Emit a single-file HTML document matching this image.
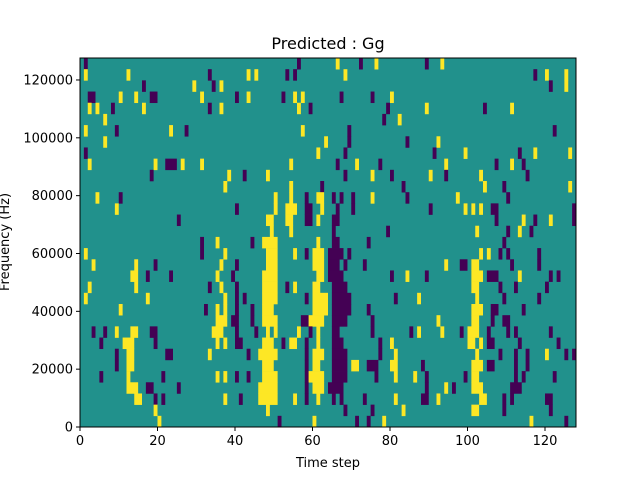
<!DOCTYPE html>
<html><head><meta charset="utf-8"><style>
body{margin:0;background:#fff;font-family:"Liberation Sans","DejaVu Sans",sans-serif;}
svg text{font-family:"DejaVu Sans","Liberation Sans",sans-serif;}
</style></head><body>
<svg id="chart" width="640" height="480" viewBox="0 0 640 480" xmlns="http://www.w3.org/2000/svg">
<rect width="640" height="480" fill="#fff"/>
<text x="328" y="49" font-size="16" text-anchor="middle" fill="#000">Predicted : Gg</text>
<g id="cells"></g>
<rect x="80" y="58" width="496" height="369" fill="none" stroke="#000" stroke-width="1"/>
<g id="xt"></g>
<g id="yt"></g>
<text x="328" y="467" font-size="13" text-anchor="middle">Time step</text>
<text transform="translate(9,242) rotate(-90)" font-size="13" text-anchor="middle">Frequency (Hz)</text>
</svg>
<script>
// rows from top (highest frequency) to bottom; tokens: y=+1 (yellow), p=-1 (purple), ranges a-b
const rowCells = [
"p1 p56 y66 p72 y76 p89 y93",
"y1 y12 p33 y43 y45 p53 p55 y68 p117 y120 y125",
"p16 y29 p34 y36 p121 y125",
"p2-3 y10 y14 p18-19 y31 p40 y43 p52 y55 y57 p67 p75 y80",
"y2 y4 p8 y16 p33 y36 y56 p59 p79 y89 p104 y111",
"y6 p78 y82",
"y1 p9 y23 p27 y57 p69 p122",
"y6 y63 p69 p84 y92",
"p1 y61 p68 p91 y99 p113 y117 y126",
"y2 y19 p22-24 y26 y31 y54 p66 y71 p77 y94 p107 y111 p114",
"p18 y38 p42 y48 p68 y75 p80 y90 p94 y103 p115",
"y37 y54 p62 p83 y104 p109 y126",
"y4 p10 y50 y54 p58 y61-62 p65 p67 p70 y75 p84 y97 p110",
"y9 p40 y50 y53-55 p58-59 y62 p66 p70 p90 y99 y101 y103 p106-107 p127",
"p25 y48-49 y53-54 p58-59 y61 p65-66 p107 y114 p117 y121 p127",
"y49 y54 p65 p79 y102 p110 y113 p116",
"p31 y35 p44 y47-50 y61 p65-66 p74 p109",
"y1 p31 y37 y48-50 y55 p58 y60-62 p64-67 p69 y103 y105 p108 p110 p118",
"y3 y14 p19 y36 p40 y48-50 y60-62 p64-66 p68 p73 y94 p98-99 y101-102 p111 p118",
"y13-14 p17 p23 y35 p39 y47-50 y61-62 p64-67 p80 y84 p89 y101-103 p105-107 y113 p121 p123",
"y2 y14 p33 y36 p40 y47-50 p53 y55 y60-61 p65-68 y101-102 p108 p112 p120",
"y1 y17 y37 p40 p42 y47-50 p58 y60-63 p65-69 p81 y87 y102 p109 p118",
"y10 p32 y35 y37 p40 p44 y47-49 y60-63 p65-69 p74 y101-103 p106-107 p114",
"y35-37 p39-40 p44 y47-50 p57-58 y59-62 p65-68 p75 y92 y101-102 p106 p109-110",
"p3 p6 y9 y13-14 p18-19 y34-36 p40 p45 y48 y50 y56 p59 y61 p65-66 p75 p85 y87 y93 p98 y100-102 p105 p110 p112 p121",
"p5 y11-13 p19 y35 y37 p40-41 y47-49 p52 y54-55 p58 y61 p65-67 p77 y80 y100-101 y103 p105-106 p113 p123",
"p9 y12-13 p22-23 y33 p43 y46-50 p58 y60-62 p65-68 p77 y81 y102 p108 p112 p115 y120 p125 p127",
"p9 y12-13 y47-49 p58 y60-61 p65-68 y70-71 p74-76 y80-81 p88 y101-103 p105-106 p112 p115",
"p5 y12 p21 y35 y37 p40 p43 y47-50 p58 y59-62 p65-68 p76 y81 y86 p89 p99 y101-102 p112 p114 p122",
"y12-14 p17-18 p25 y46-50 p58 y60-62 p64-67 p89 y94 p96 y101-103 p111-113",
"y14-15 p19 p21 y37 p41 y46-50 y55 p58 y61 p65 p67 p73 y81 p88-89 y92 y103-104 p109 p111 p120-121",
"y19 y48 p68 p75 y83 y101-102 p109 p121",
"y20 p51 y60 p71 p74 y78 y116 p125"
];
const nCols = 128;
const xTicks = [0,20,40,60,80,100,120];
const yTicks = [0,20000,40000,60000,80000,100000,120000];
const yMaxHz = 127600;
const colors = {"-1":"#440154","0":"#21918c","1":"#fde725"};
const L=80,R=576,T=58,B=427;
function xs(v){return L+v*(R-L)/nCols;}
function yHz(v){return B-v*(B-T)/yMaxHz;}
const nRows=rowCells.length;
function yRow(i){return T+i*(B-T)/nRows;}
const NS="http://www.w3.org/2000/svg";
const g=document.getElementById('cells');
const bg=document.createElementNS(NS,'rect');
bg.setAttribute('x',L);bg.setAttribute('y',T);bg.setAttribute('width',R-L);bg.setAttribute('height',B-T);bg.setAttribute('fill',colors["0"]);


g.appendChild(bg);
rowCells.forEach((row,i)=>{
  row.split(' ').forEach(tok=>{
    if(!tok)return;
    const v=tok[0]==='y'?1:-1;
    const parts=tok.slice(1).split('-').map(Number);
    const a=parts[0],b=parts.length>1?parts[1]:parts[0];
    const r=document.createElementNS(NS,'rect');
    r.setAttribute('x',xs(a));r.setAttribute('width',xs(b+1)-xs(a));
    r.setAttribute('y',yRow(i));r.setAttribute('height',yRow(i+1)-yRow(i)+0.3);
    r.setAttribute('fill',colors[String(v)]);
    
    
    g.appendChild(r);
  });
});
const xt=document.getElementById('xt');
xTicks.forEach(t=>{
  const x=xs(t);
  const l=document.createElementNS(NS,'line');
  l.setAttribute('x1',x);l.setAttribute('x2',x);l.setAttribute('y1',B);l.setAttribute('y2',B+4);l.setAttribute('stroke','#000');
  
  
  xt.appendChild(l);
  const tx=document.createElementNS(NS,'text');
  tx.setAttribute('x',x);tx.setAttribute('y',B+18);tx.setAttribute('font-size','13');tx.setAttribute('text-anchor','middle');
  tx.textContent=t;
  
  
  xt.appendChild(tx);
});
const yt=document.getElementById('yt');
yTicks.forEach(t=>{
  const y=yHz(t);
  const l=document.createElementNS(NS,'line');
  l.setAttribute('x1',L-4);l.setAttribute('x2',L);l.setAttribute('y1',y);l.setAttribute('y2',y);l.setAttribute('stroke','#000');
  
  
  yt.appendChild(l);
  const tx=document.createElementNS(NS,'text');
  tx.setAttribute('x',L-7);tx.setAttribute('y',y+4.5);tx.setAttribute('font-size','13');tx.setAttribute('text-anchor','end');
  tx.textContent=t;
  
  
  yt.appendChild(tx);
});
</script>
</body></html>
